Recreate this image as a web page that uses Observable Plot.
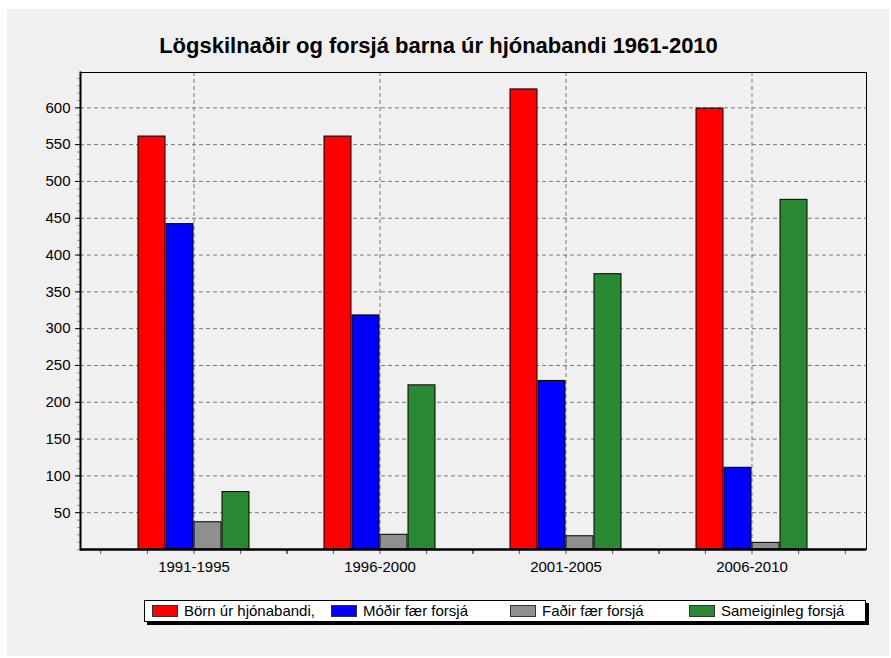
<!DOCTYPE html>
<html>
<head>
<meta charset="utf-8">
<script src="https://cdn.jsdelivr.net/npm/d3@7"></script>
<script src="https://cdn.jsdelivr.net/npm/@observablehq/plot@0.6"></script>
<style>
  body { margin: 0; background: #fff; }
  #root { position: relative; width: 891px; height: 658px; background: #fff; overflow: hidden; font-family: "Liberation Sans", Arial, sans-serif; }
  #panel { position: absolute; left: 7px; top: 9px; width: 882px; height: 647px; background: #f0f0f0; }
  #title { position: absolute; left: 0; top: 33px; width: 877px; text-align: center; font-size: 22px; font-weight: bold; color: #000; }
  #chart { position: absolute; left: 0; top: 0; }
  #legend { position: absolute; left: 144px; top: 600px; width: 720px; height: 20px; background: #fff; border: 1px solid #000; box-shadow: 3px 3px 0 #000; }
  .item { position: absolute; top: 3px; display: flex; align-items: center; font-size: 15px; line-height: 14px; }
  .sw { width: 26px; height: 12px; border: 1px solid #333; box-sizing: border-box; margin-right: 6px; }
</style>
</head>
<body>
<div id="root">
  <div id="panel"></div>
  <div id="title">Lögskilnaðir og forsjá barna úr hjónabandi 1961-2010</div>
  <div id="chart"></div>
  <div id="legend"></div>
</div>
<script>
const periods = ["1991-1995", "1996-2000", "2001-2005", "2006-2010"];
const seriesNames = ["Börn úr hjónabandi,", "Móðir fær forsjá", "Faðir fær forsjá", "Sameiginleg forsjá"];
const bornValues = [561, 561, 625, 599];
const modirValues = [442, 318, 229, 111];
const fadirValues = [37, 20, 18, 9];
const sameigValues = [78, 223, 374, 475];
const seriesColors = ["#ff0000", "#0000ff", "#8f8f8f", "#2a8a33"];
const yTicks = [50, 100, 150, 200, 250, 300, 350, 400, 450, 500, 550, 600];
const yMinorTicks = d3.range(0, 650, 10);

const allValues = [bornValues, modirValues, fadirValues, sameigValues];
const barStep = 28;
const quarter = 186.6 / 4;

const barMarks = allValues.map((vals, i) =>
  Plot.barY(periods.map((p, j) => ({period: p, value: vals[j], series: seriesNames[i]})), {
    x: "period", y: "value", fill: seriesColors[i], stroke: "#000", strokeWidth: 1,
    dx: (i - 1.5) * barStep
  })
);

const minorX = [-2, -1, 1, 2].map(k =>
  Plot.axisX({tickSize: 5, dx: k * quarter, tickFormat: () => "", stroke: "#555", label: null})
);

const chart = Plot.plot({
  width: 891,
  height: 590,
  marginLeft: 80,
  marginRight: 25,
  marginTop: 72,
  marginBottom: 41,
  style: {background: "transparent", fontFamily: "'Liberation Sans', Arial, sans-serif", fontSize: "15px", color: "#000"},
  x: {domain: periods, paddingInner: 0.8526, paddingOuter: 0.5324, axis: null, label: null},
  y: {domain: [0, 648], axis: null, label: null},
  marks: [
    Plot.gridY(yTicks, {stroke: "#7a7a7a", strokeOpacity: 1, strokeDasharray: "4,3"}),
    Plot.gridX({stroke: "#7a7a7a", strokeOpacity: 1, strokeDasharray: "4,3"}),
    ...barMarks,
    Plot.axisY(yMinorTicks, {tickSize: 3, tickFormat: () => "", stroke: "#999", label: null}),
    Plot.axisY(yTicks, {tickSize: 5, tickPadding: 5, fontSize: 15, label: null}),
    Plot.axisX({tickSize: 5, tickPadding: 7, fontSize: 15, stroke: "#555", label: null}),
    ...minorX,
    Plot.frame({stroke: "#000"}),
    Plot.frame({anchor: "left", stroke: "#000", strokeWidth: 2}),
    Plot.ruleY([0], {stroke: "#000", strokeWidth: 2.5})
  ]
});
document.getElementById("chart").appendChild(chart);

const legend = document.getElementById("legend");
seriesNames.forEach((name, i) => {
  const item = document.createElement("div");
  item.className = "item";
  item.style.left = (7 + i * 179) + "px";
  const sw = document.createElement("div");
  sw.className = "sw";
  sw.style.background = seriesColors[i];
  const label = document.createElement("span");
  label.textContent = name;
  item.appendChild(sw);
  item.appendChild(label);
  legend.appendChild(item);
});
</script>
</body>
</html>
